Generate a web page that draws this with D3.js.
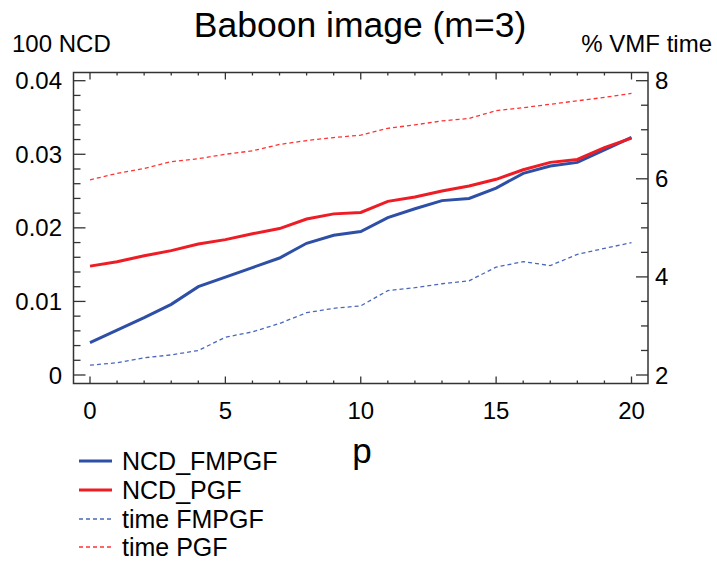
<!DOCTYPE html>
<meta charset="utf-8">
<script src="https://cdn.jsdelivr.net/npm/d3@7"></script>
<style>
body { margin: 0; background: #fff; }
text { font-family: "Liberation Sans", Arial, sans-serif; fill: #000; }
.frame { fill: none; stroke: #333; stroke-width: 1.5; }
.tick { stroke: #333; stroke-width: 1.3; }
</style>
<body>
<script>

// data
var pvals = [0,1,2,3,4,5,6,7,8,9,10,11,12,13,14,15,16,17,18,19,20];
var ncdFMPGF = [0.0044,0.0061,0.0078,0.0096,0.0120,0.0133,0.0146,0.0159,0.0179,0.0190,0.0195,
                0.0214,0.0226,0.0237,0.0240,0.0254,0.0274,0.0284,0.0289,0.0306,0.0323];
var ncdPGF   = [0.0148,0.0154,0.0162,0.0169,0.0178,0.0184,0.0192,0.0199,0.0212,0.0219,0.0221,
                0.0236,0.0242,0.0250,0.0257,0.0266,0.0279,0.0289,0.0293,0.0309,0.0322];
var timeFMPGF = [2.20,2.25,2.35,2.41,2.50,2.77,2.88,3.05,3.27,3.36,3.41,
                 3.72,3.78,3.86,3.92,4.20,4.31,4.23,4.46,4.58,4.70];
var timePGF   = [5.98,6.11,6.21,6.35,6.41,6.50,6.57,6.70,6.78,6.84,6.89,
                 7.03,7.10,7.18,7.23,7.39,7.45,7.52,7.59,7.66,7.74];

var xTicks = [0,5,10,15,20];
var yLeftTicks = [0,0.01,0.02,0.03,0.04];
var yRightTicks = [2,4,6,8];
var legendNames = ["NCD_FMPGF","NCD_PGF","time FMPGF","time PGF"];

var width = 717, height = 565;
var svg = d3.select("body").append("svg")
    .attr("width", width)
    .attr("height", height);

// plot frame
var fx0 = 73.5, fx1 = 648, fy0 = 72.5, fy1 = 383.5;

var xscale = d3.scaleLinear().domain([0,20]).range([90,631.5]);
var yL = d3.scaleLinear().domain([0,0.04]).range([375,80.7]);
var yR = d3.scaleLinear().domain([2,8]).range([375,80.7]);

svg.append("rect").attr("class","frame")
   .attr("x",fx0).attr("y",fy0).attr("width",fx1-fx0).attr("height",fy1-fy0);

// x ticks top & bottom (inside)
d3.range(0,21,1).forEach(function(t) {
  var len = (t % 5 == 0) ? 7 : 3;
  var x = xscale(t);
  svg.append("line").attr("class","tick").attr("x1",x).attr("x2",x).attr("y1",fy1).attr("y2",fy1-len);
  svg.append("line").attr("class","tick").attr("x1",x).attr("x2",x).attr("y1",fy0).attr("y2",fy0+len);
});
// left ticks
d3.range(0,21,1).forEach(function(i) {
  var len = (i % 5 == 0) ? 12 : 7;
  var y = yL(i*0.002);
  svg.append("line").attr("class","tick").attr("x1",fx0).attr("x2",fx0+len).attr("y1",y).attr("y2",y);
});
// right ticks
d3.range(0,13,1).forEach(function(i) {
  var len = (i % 4 == 0) ? 12 : 7;
  var y = yR(2 + i*0.5);
  svg.append("line").attr("class","tick").attr("x1",fx1).attr("x2",fx1-len).attr("y1",y).attr("y2",y);
});

// tick labels
svg.selectAll(".xl").data(xTicks).enter().append("text")
   .attr("x", function(d){ return xscale(d); }).attr("y", 419)
   .attr("text-anchor","middle").style("font-size","24px")
   .text(function(d){ return d; });

svg.selectAll(".yl").data(yLeftTicks).enter().append("text")
   .attr("x", 62).attr("y", function(d){ return yL(d) + 8.5; })
   .attr("text-anchor","end").style("font-size","24px")
   .text(function(d){ return d == 0 ? "0" : d3.format(".2f")(d); });

svg.selectAll(".yr").data(yRightTicks).enter().append("text")
   .attr("x", 655).attr("y", function(d){ return yR(d) + 8.5; })
   .attr("text-anchor","start").style("font-size","24px")
   .text(function(d){ return d; });

// titles
svg.append("text").attr("x",360).attr("y",37).attr("text-anchor","middle")
   .style("font-size","35.5px").text("Baboon image (m=3)");
svg.append("text").attr("x",12).attr("y",52).style("font-size","24px").text("100 NCD");
svg.append("text").attr("x",712).attr("y",52).attr("text-anchor","end")
   .style("font-size","24px").text("% VMF time");
svg.append("text").attr("x",362).attr("y",463).attr("text-anchor","middle")
   .style("font-size","35px").text("p");

// lines
var series = [
  {vals: ncdFMPGF, y: yL, color: "#2d4fa6", w: 3, dash: null},
  {vals: ncdPGF,   y: yL, color: "#ee1c24", w: 3, dash: null},
  {vals: timeFMPGF, y: yR, color: "#4a68bb", w: 1.3, dash: "4,3"},
  {vals: timePGF,   y: yR, color: "#ff3333", w: 1.3, dash: "4,3"}
];

series.forEach(function(s) {
  var line = d3.line()
    .x(function(d,i){ return xscale(pvals[i]); })
    .y(function(d){ return s.y(d); });
  svg.append("path").datum(s.vals)
    .attr("d", line)
    .attr("fill","none")
    .attr("stroke", s.color)
    .attr("stroke-width", s.w)
    .attr("stroke-dasharray", s.dash);
});

// legend
var ly = [461, 490, 519, 547];
series.forEach(function(s, i) {
  svg.append("line").attr("x1",79).attr("x2",112).attr("y1",ly[i]).attr("y2",ly[i])
    .attr("stroke", s.color).attr("stroke-width", s.w).attr("stroke-dasharray", s.dash);
  svg.append("text").attr("x",122).attr("y",ly[i]+9)
    .style("font-size","25px").text(legendNames[i]);
});

</script>
</body>
</html>
